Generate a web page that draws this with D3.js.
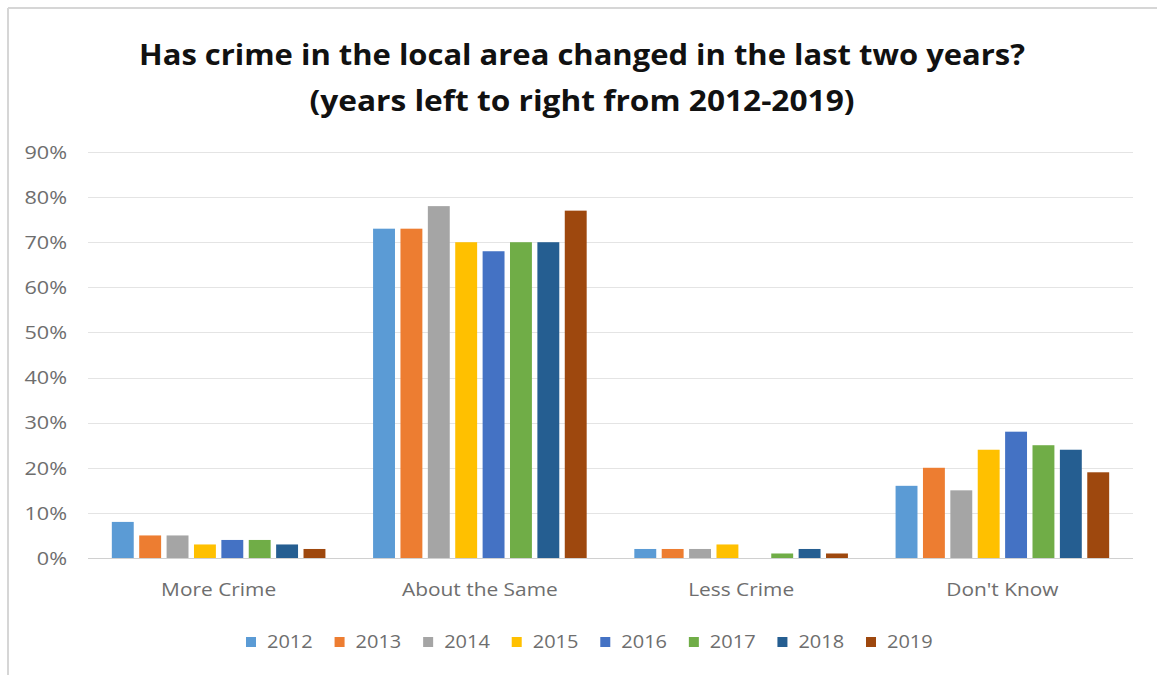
<!DOCTYPE html>
<html>
<head>
<meta charset="utf-8">
<script src="https://cdn.jsdelivr.net/npm/d3@7/dist/d3.min.js"></script>
<style>
  html, body { margin: 0; padding: 0; background: #fff; }
  svg { display: block; }
</style>
</head>
<body>
<svg id="chart" width="1157" height="677"></svg>
<script>
// Survey answers by year, percent of respondents
const categories = ["More Crime", "About the Same", "Less Crime", "Don't Know"];
const years = ["2012", "2013", "2014", "2015", "2016", "2017", "2018", "2019"];
const values2012 = [8, 73, 2, 16];
const values2013 = [5, 73, 2, 20];
const values2014 = [5, 78, 2, 15];
const values2015 = [3, 70, 3, 24];
const values2016 = [4, 68, 0, 28];
const values2017 = [4, 70, 1, 25];
const values2018 = [3, 70, 2, 24];
const values2019 = [2, 77, 1, 19];
const yTicks = [0, 10, 20, 30, 40, 50, 60, 70, 80, 90];
const titleLines = ["Has crime in the local area changed in the last two years?",
                    "(years left to right from 2012-2019)"];

const seriesValues = [values2012, values2013, values2014, values2015,
                      values2016, values2017, values2018, values2019];
const colors = ["#5B9BD5", "#ED7D31", "#A5A5A5", "#FFC000",
                "#4472C4", "#70AD47", "#255E91", "#9E480E"];

const svg = d3.select("#chart");
const W = 1157, H = 677;
const plot = { left: 88, right: 1133, top: 152, bottom: 558 };
const font = "'Open Sans', 'Noto Sans', sans-serif";

// Widen text glyphs horizontally by factor k
function widen(sel, k) {
  sel.each(function () {
    const len = this.getComputedTextLength();
    d3.select(this).attr("textLength", len * k).attr("lengthAdjust", "spacingAndGlyphs");
  });
}

// Frame
svg.append("rect").attr("x", 0).attr("y", 0).attr("width", W).attr("height", H).attr("fill", "#fff");
svg.append("line").attr("x1", 8).attr("x2", W).attr("y1", 8).attr("y2", 8)
  .attr("stroke", "#d6d6d6").attr("stroke-width", 2);
svg.append("line").attr("x1", 8).attr("x2", 8).attr("y1", 8).attr("y2", 675)
  .attr("stroke", "#d6d6d6").attr("stroke-width", 2);

// Title
svg.append("g").selectAll("text").data(titleLines).join("text")
  .attr("x", 582).attr("y", (d, i) => 65 + i * 46)
  .attr("text-anchor", "middle")
  .attr("font-family", font)
  .attr("font-weight", 700)
  .attr("font-size", 28)
  .attr("fill", "#111")
  .attr("textLength", (d, i) => i === 0 ? 886 : 545)
  .attr("lengthAdjust", "spacingAndGlyphs")
  .text(d => d);

const x0 = d3.scaleBand().domain(categories).range([plot.left, plot.right]).paddingInner(0).paddingOuter(0);
const x1 = d3.scaleBand().domain(years).range([0, x0.bandwidth()]).paddingInner(0.2).paddingOuter(0.87);
const y = d3.scaleLinear().domain([0, 90]).range([plot.bottom, plot.top]);

// Gridlines
svg.append("g").selectAll("line").data(yTicks).join("line")
  .attr("x1", plot.left).attr("x2", plot.right)
  .attr("y1", d => Math.round(y(d)) + 0.5).attr("y2", d => Math.round(y(d)) + 0.5)
  .attr("stroke", d => d === 0 ? "#d0d0d0" : "#e4e4e4").attr("stroke-width", 1);

// Y axis labels
const yAxis = d3.axisLeft(y).tickValues(yTicks).tickFormat(d => d + "%").tickSize(0).tickPadding(0);
const yg = svg.append("g").attr("transform", `translate(${plot.left - 21},0)`).call(yAxis);
yg.select(".domain").remove();
yg.selectAll("text")
  .attr("font-family", font)
  .attr("font-size", 18).attr("fill", "#6e6e6e").attr("dy", "0.35em")
  .call(widen, 1.2);

// Bars
const groups = svg.append("g").selectAll("g").data(categories).join("g")
  .attr("transform", d => `translate(${x0(d)},0)`);
groups.selectAll("rect")
  .data((c, ci) => years.map((yr, si) => ({ yr, v: seriesValues[si][ci], color: colors[si] })))
  .join("rect")
  .attr("x", d => x1(d.yr))
  .attr("width", x1.bandwidth())
  .attr("y", d => y(d.v))
  .attr("height", d => plot.bottom - y(d.v))
  .attr("fill", d => d.color);

// Category labels
const xAxis = d3.axisBottom(x0).tickSize(0).tickPadding(0);
const xg = svg.append("g").attr("transform", `translate(0,${plot.bottom + 38})`).call(xAxis);
xg.select(".domain").remove();
xg.selectAll("text")
  .attr("font-family", font)
  .attr("font-size", 18).attr("fill", "#6e6e6e").attr("dy", 0)
  .call(widen, 1.16);

// Legend
const legendX = d3.scalePoint().domain(years).range([246, 866]);
const leg = svg.append("g").selectAll("g").data(years).join("g")
  .attr("transform", d => `translate(${legendX(d)},642)`);
leg.append("rect").attr("x", 0).attr("y", -5).attr("width", 10).attr("height", 10)
  .attr("fill", (d, i) => colors[i]);
leg.append("text").attr("x", 21).attr("y", 0).attr("dy", "0.35em")
  .attr("font-family", font)
  .attr("font-size", 18).attr("fill", "#6e6e6e")
  .text(d => d)
  .call(widen, 1.11);
</script>
</body>
</html>
